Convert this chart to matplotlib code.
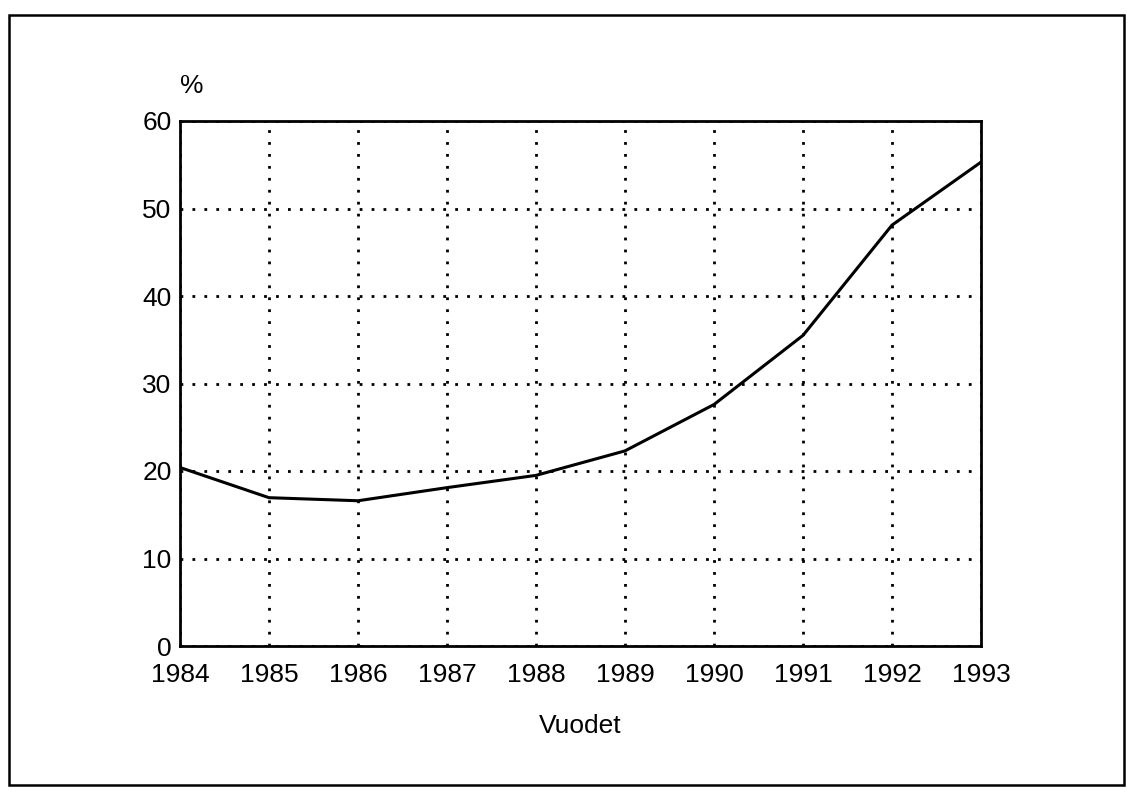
import matplotlib
matplotlib.use("Agg")
from matplotlib import pyplot as plt
from matplotlib.patches import Rectangle

plt.rcParams['font.family'] = ['Liberation Sans', 'DejaVu Sans']

years = [1984, 1985, 1986, 1987, 1988, 1989, 1990, 1991, 1992, 1993]
share = [20.4, 16.95, 16.6, 18.1, 19.5, 22.3, 27.6, 35.5, 48.1, 55.3]
y_ticks = [0, 10, 20, 30, 40, 50, 60]

W, H = 1127, 797
fig = plt.figure(figsize=(W / 100, H / 100), dpi=100)
ax = fig.add_axes([180 / W, (H - 646) / H, 801 / W, 525 / H])

# outer frame of the scanned page
fig.patches.append(Rectangle((9 / W, (H - 785) / H), 1115 / W, 770 / H,
                             transform=fig.transFigure, fill=False,
                             edgecolor="black", linewidth=1.8))

ax.plot(years, share, color="black", linewidth=2.2, solid_joinstyle="round")

ax.set_xlim(1984, 1993)
ax.set_ylim(0, 60)
ax.set_xticks(years)
ax.set_yticks(y_ticks)
ax.grid(True, color="black", linestyle=(0, (1, 3.3)), linewidth=2)
ax.tick_params(length=0, labelsize=19)
ax.tick_params(axis="y", pad=6)
ax.tick_params(axis="x", pad=12)
for sp in ax.spines.values():
    sp.set_linewidth(2)

fig.text(192 / W, (H - 86) / H, "%", fontsize=19, ha="center", va="center")
ax.set_xlabel("Vuodet", fontsize=19, labelpad=20)

fig.savefig("out.png", dpi=100)
